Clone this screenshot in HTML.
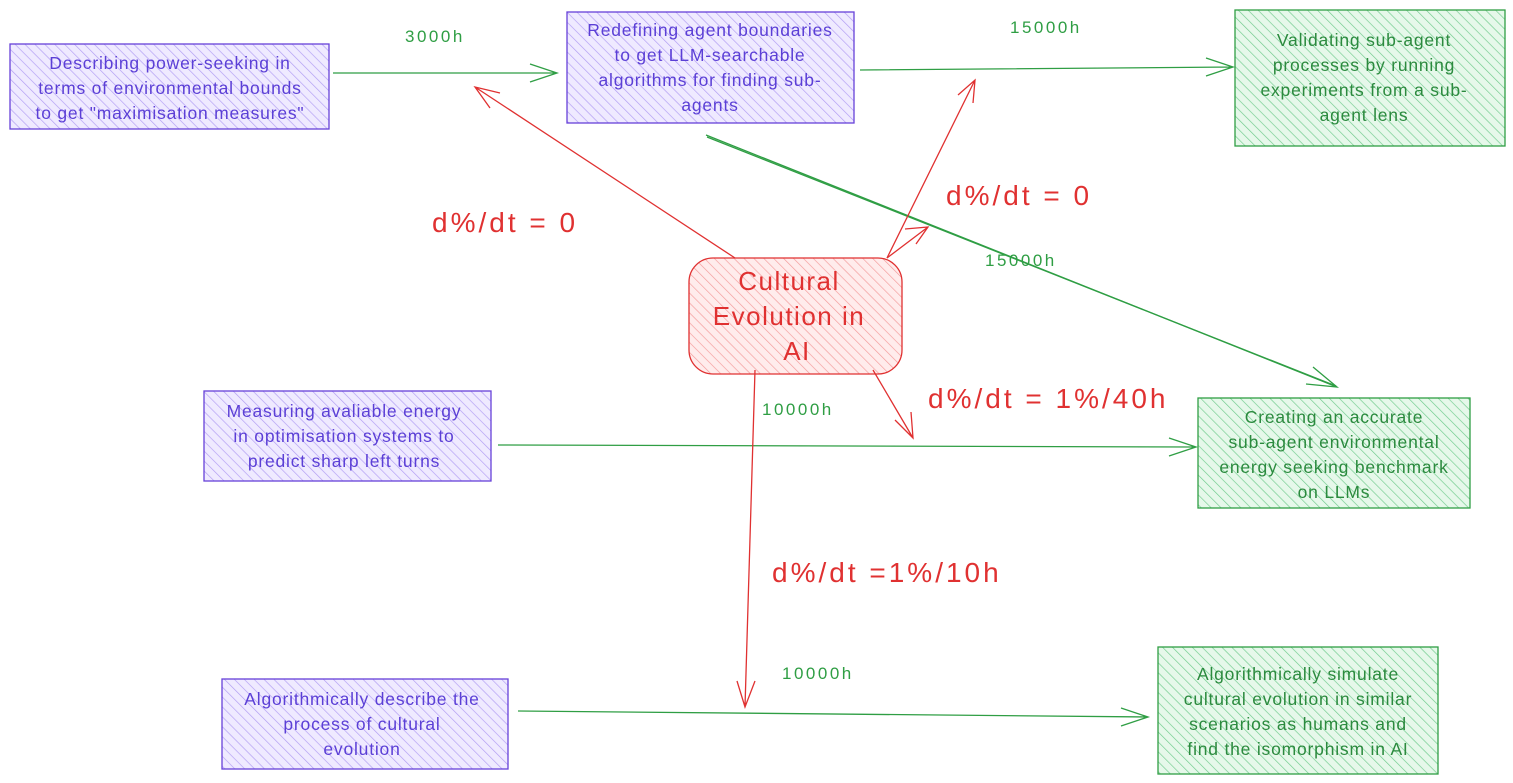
<!DOCTYPE html>
<html><head><meta charset="utf-8"><style>
html,body{margin:0;padding:0;background:#fff;}
svg{display:block;}
text{font-family:"Liberation Sans",sans-serif;}
.p{fill:#5b3fd6;font-size:17.5px;letter-spacing:0.8px;}
.g{fill:#2b8a3e;font-size:17.5px;letter-spacing:0.8px;}
.gl{fill:#2f9e44;font-size:17px;letter-spacing:2.5px;}
.r{fill:#e03131;font-size:28px;letter-spacing:3px;}
</style></head><body>
<svg width="1513" height="783" viewBox="0 0 1513 783" xmlns="http://www.w3.org/2000/svg">
<defs>
<pattern id="hp" width="7" height="7" patternUnits="userSpaceOnUse" patternTransform="rotate(-45)">
<rect width="7" height="7" fill="#efeaff"/><line x1="0" y1="0" x2="0" y2="7" stroke="#b09cf3" stroke-width="1.3"/></pattern>
<pattern id="hg" width="7" height="7" patternUnits="userSpaceOnUse" patternTransform="rotate(-45)">
<rect width="7" height="7" fill="#e6f8ea"/><line x1="0" y1="0" x2="0" y2="7" stroke="#6fcb8c" stroke-width="1.3"/></pattern>
<pattern id="hr" width="7" height="7" patternUnits="userSpaceOnUse" patternTransform="rotate(-45)">
<rect width="7" height="7" fill="#ffecec"/><line x1="0" y1="0" x2="0" y2="7" stroke="#f39a9a" stroke-width="1.3"/></pattern>
</defs>

<rect x="10" y="44" width="319" height="85" fill="url(#hp)" stroke="#6741d9" stroke-width="1.3"/>
<rect x="567" y="12" width="287" height="111" fill="url(#hp)" stroke="#6741d9" stroke-width="1.3"/>
<rect x="1235" y="10" width="270" height="136" fill="url(#hg)" stroke="#2f9e44" stroke-width="1.3"/>
<rect x="689" y="258" width="213" height="116" rx="24" fill="url(#hr)" stroke="#e03131" stroke-width="1.3"/>
<rect x="204" y="391" width="287" height="90" fill="url(#hp)" stroke="#6741d9" stroke-width="1.3"/>
<rect x="1198" y="398" width="272" height="110" fill="url(#hg)" stroke="#2f9e44" stroke-width="1.3"/>
<rect x="222" y="679" width="286" height="90" fill="url(#hp)" stroke="#6741d9" stroke-width="1.3"/>
<rect x="1158" y="647" width="280" height="127" fill="url(#hg)" stroke="#2f9e44" stroke-width="1.3"/>

<g class="p" text-anchor="middle">
<text x="170" y="69">Describing power-seeking in</text>
<text x="170" y="94">terms of environmental bounds</text>
<text x="170" y="119">to get "maximisation measures"</text>
<text x="710" y="36">Redefining agent boundaries</text>
<text x="710" y="61">to get LLM-searchable</text>
<text x="710" y="86">algorithms for finding sub-</text>
<text x="710" y="111">agents</text>
<text x="344" y="417">Measuring avaliable energy</text>
<text x="344" y="442">in optimisation systems to</text>
<text x="344" y="467">predict sharp left turns</text>
<text x="362" y="705">Algorithmically describe the</text>
<text x="362" y="730">process of cultural</text>
<text x="362" y="755">evolution</text>
</g>
<g class="g" text-anchor="middle">
<text x="1364" y="46">Validating sub-agent</text>
<text x="1364" y="71">processes by running</text>
<text x="1364" y="96">experiments from a sub-</text>
<text x="1364" y="121">agent lens</text>
<text x="1334" y="423">Creating an accurate</text>
<text x="1334" y="448">sub-agent environmental</text>
<text x="1334" y="473">energy seeking benchmark</text>
<text x="1334" y="498">on LLMs</text>
<text x="1298" y="680">Algorithmically simulate</text>
<text x="1298" y="705">cultural evolution in similar</text>
<text x="1298" y="730">scenarios as humans and</text>
<text x="1298" y="755">find the isomorphism in AI</text>
</g>
<g fill="#e03131" font-size="26" letter-spacing="1.5" text-anchor="middle">
<text x="789" y="290">Cultural</text>
<text x="789" y="325">Evolution in</text>
<text x="797" y="360">AI</text>
</g>

<g stroke="#2f9e44" stroke-width="1.3" fill="none">
<path d="M333 73 L557 73 M530 64 L557 73 L530 82"/>
<path d="M860 70 L1233 67 M1206 58 L1233 67 L1206 76"/>
<path d="M706 135 L1337 387 M1306 384 L1337 387 L1313 367"/>
<path d="M707 137 L1336 386"/>
<path d="M498 445 L1196 447 M1169 438 L1196 447 L1169 456"/>
<path d="M518 711 L1148 717 M1121 708 L1148 717 L1121 726"/>
</g>
<g class="gl">
<text x="405" y="42">3000h</text>
<text x="1010" y="33">15000h</text>
<text x="985" y="266">15000h</text>
<text x="762" y="415">10000h</text>
<text x="782" y="679">10000h</text>
</g>

<g stroke="#e03131" stroke-width="1.3" fill="none">
<path d="M735 258 L475 87 M490 108 L475 87 L500 93"/>
<path d="M887 258 L975 80 M958 95 L975 80 L973 103"/>
<path d="M887 258 L928 227 M905 229 L928 227 L916 244"/>
<path d="M873 370 L913 438 M895 420 L913 438 L911 412"/>
<path d="M755 370 L745 707 M737 681 L745 707 L755 681"/>
</g>
<g class="r">
<text x="432" y="232">d%/dt = 0</text>
<text x="946" y="205">d%/dt = 0</text>
<text x="928" y="408">d%/dt = 1%/40h</text>
<text x="772" y="582">d%/dt =1%/10h</text>
</g>
</svg>
</body></html>
